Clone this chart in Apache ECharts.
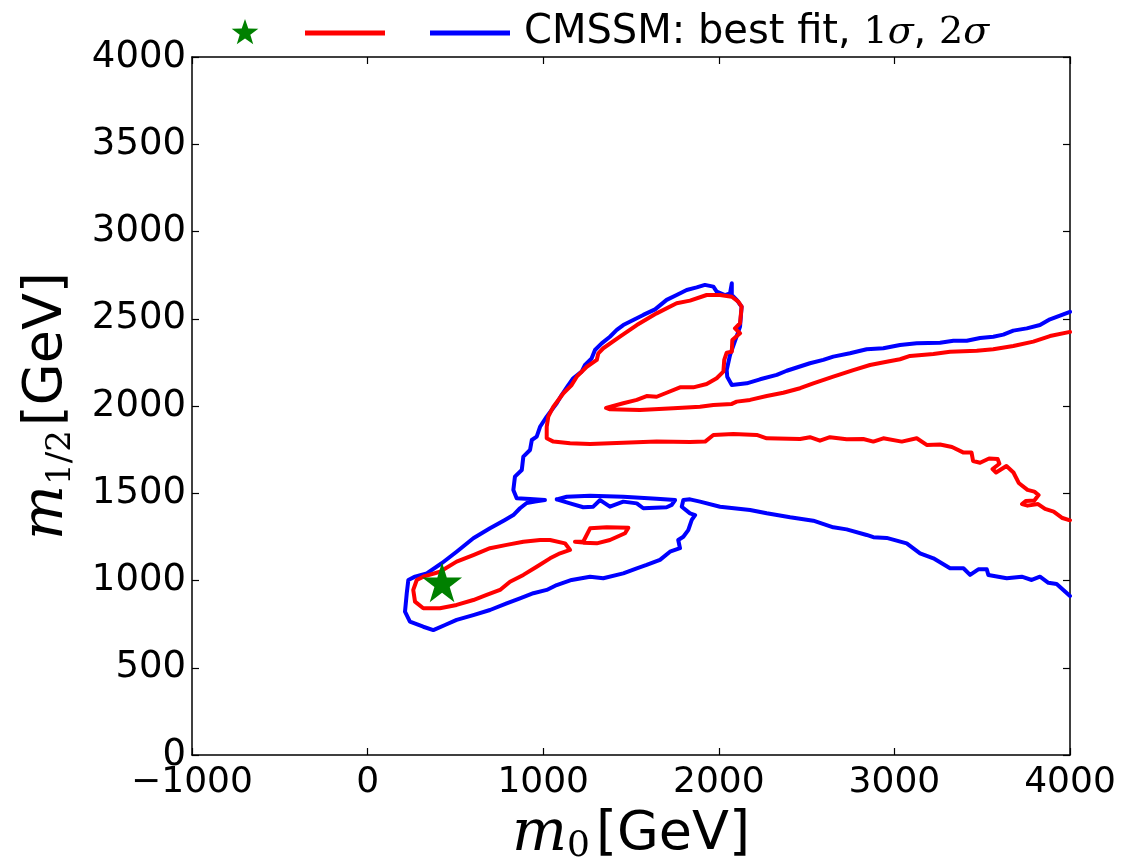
<!DOCTYPE html>
<html>
<head>
<meta charset="utf-8">
<script src="https://cdn.jsdelivr.net/npm/echarts@6/dist/echarts.min.js"></script>
<style>
  html, body { margin: 0; padding: 0; background: #ffffff; }
  #chart { width: 1129px; height: 860px; }
</style>
</head>
<body>
<div id="chart"></div>
<script>
// Axis ranges (GeV)
const m0Ticks = [-1000, 0, 1000, 2000, 3000, 4000];
const m12Ticks = [0, 500, 1000, 1500, 2000, 2500, 3000, 3500, 4000];

// CMSSM best-fit point [m0, m1/2]
const bestFit = [[424, 990]];

// 2-sigma contour (outer, open at the right edge)
const sigma2Outer = [
  [4000,2540],[3886,2497],[3829,2464],[3754,2445],[3677,2432],[3620,2409],[3563,2397],[3488,2390],
  [3412,2374],[3336,2374],[3260,2363],[3127,2359],[3032,2350],[2937,2331],[2842,2325],[2747,2302],
  [2652,2283],[2595,2264],[2519,2245],[2387,2202],[2330,2178],[2235,2153],[2159,2130],[2074,2120],
  [2048,2168],[2045,2206],[2064,2292],[2121,2455],[2130,2569],[2102,2608],[2074,2636],[2074,2703],
  [2064,2646],[2035,2636],[1988,2655],[1969,2684],[1921,2694],[1874,2680],[1817,2665],[1760,2636],
  [1703,2608],[1637,2554],[1570,2522],[1513,2493],[1456,2464],[1419,2436],[1380,2397],[1333,2359],
  [1295,2321],[1276,2273],[1238,2235],[1219,2197],[1171,2159],[1143,2120],[1105,2063],[1077,2016],
  [1020,1939],[982,1881],[963,1824],[935,1805],[925,1748],[887,1710],[878,1633],[839,1595],
  [830,1519],[849,1471],[925,1467],[1010,1461],[953,1453],[906,1444],[868,1414],[830,1375],
  [782,1347],[697,1299],[602,1242],[507,1165],[422,1099],[337,1041],[270,1022],[232,1003],
  [223,927],[213,821],[241,764],[317,735],[374,716],[441,745],[507,774],[602,802],
  [697,831],[792,869],[868,898],[944,927],[1020,946],[1077,974],[1162,1003],[1267,1022],
  [1342,1013],[1456,1041],[1533,1070],[1589,1089],[1665,1118],[1722,1165],[1779,1185],[1769,1232],
  [1798,1251],[1826,1289],[1846,1347],[1865,1375],[1836,1385],[1789,1423],[1798,1461],[1836,1465],
  [1893,1452],[2007,1423],[2178,1404],[2273,1385],[2406,1362],[2538,1343],[2652,1305],[2728,1293],
  [2842,1261],[2880,1248],[2956,1244],[3070,1213],[3146,1156],[3222,1127],[3317,1070],[3393,1070],
  [3431,1032],[3478,1064],[3526,1064],[3535,1032],[3640,1013],[3725,1022],[3782,1003],[3829,1022],
  [3877,987],[3924,980],[4000,911]
];

// 2-sigma island near m1/2 ~ 1450
const sigma2Island = [
  [1077,1465],[1134,1480],[1267,1486],[1456,1480],[1646,1469],[1751,1461],[1732,1433],[1703,1420],
  [1570,1414],[1533,1442],[1456,1452],[1380,1423],[1324,1461],[1285,1423],[1228,1420],[1153,1442],
  [1077,1465]
];

// 1-sigma contour (upper lobe and the two right-hand branches)
const sigma1Main = [
  [4000,2425],[3886,2401],[3791,2369],[3677,2344],[3563,2325],[3469,2317],[3317,2311],[3222,2298],
  [3089,2287],[3032,2268],[2956,2254],[2861,2235],[2766,2206],[2652,2168],[2538,2130],[2463,2102],
  [2367,2076],[2273,2057],[2178,2035],[2102,2025],[2074,2012],[1969,2006],[1893,1996],[1741,1987],
  [1551,1977],[1380,1981],[1358,1989],[1456,2016],[1533,2035],[1589,2057],[1646,2053],[1703,2076],
  [1779,2107],[1855,2107],[1931,2126],[1988,2159],[2026,2197],[2031,2264],[2045,2306],[2074,2311],
  [2077,2378],[2121,2417],[2092,2445],[2121,2474],[2130,2569],[2111,2598],[2074,2626],[2007,2636],
  [1931,2636],[1836,2604],[1760,2589],[1646,2531],[1533,2464],[1437,2397],[1342,2331],[1314,2302],
  [1305,2264],[1248,2225],[1191,2168],[1162,2120],[1115,2073],[1058,1996],[1029,1939],[1020,1881],
  [1020,1815],[1058,1796],[1153,1786],[1267,1782],[1456,1790],[1646,1796],[1836,1794],[1922,1796],
  [1969,1834],[2083,1840],[2216,1834],[2273,1815],[2463,1811],[2519,1821],[2576,1801],[2633,1821],
  [2728,1809],[2823,1811],[2880,1796],[2937,1815],[3042,1796],[3127,1815],[3184,1777],[3260,1779],
  [3328,1765],[3391,1734],[3439,1734],[3448,1685],[3488,1675],[3539,1699],[3588,1696],[3598,1669],
  [3559,1639],[3579,1619],[3638,1656],[3678,1619],[3708,1559],[3758,1519],[3797,1509],[3821,1490],
  [3797,1459],[3748,1456],[3727,1438],[3758,1429],[3818,1438],[3858,1410],[3907,1395],[3957,1358],
  [4000,1345]
];

// 1-sigma closed region around the best fit
const sigma1Low = [
  [317,1022],[412,1050],[507,1108],[602,1146],[697,1185],[792,1204],[887,1222],[982,1232],
  [1039,1232],[1124,1213],[1153,1175],[1096,1156],[1039,1127],[963,1079],[887,1032],[811,993],
  [754,946],[678,917],[602,888],[507,860],[412,841],[317,841],[270,879],[260,946],
  [280,1003],[317,1022]
];

// small 1-sigma island
const sigma1Island = [
  [1181,1222],[1228,1222],[1267,1299],[1362,1305],[1485,1303],[1466,1271],[1380,1232],[1305,1213],
  [1228,1217],[1181,1222]
];

const BLUE = '#0000ff';
const RED = '#ff0000';
const GREEN = '#008000';
const STAR = 'path://M50,0 L61.2,34.5 L97.6,34.5 L68.2,55.9 L79.4,90.5 L50,69.1 L20.6,90.5 L31.8,55.9 L2.4,34.5 L38.8,34.5 Z';
const SANS = 'DejaVu Sans';
const SERIF = 'DejaVu Serif';

// five-pointed star outline for the legend key
function starPoints(cx, cy, rOuter, rInner) {
  const pts = [];
  for (let k = 0; k < 10; k++) {
    const r = k % 2 === 0 ? rOuter : rInner;
    const a = -Math.PI / 2 + k * Math.PI / 5;
    pts.push([cx + r * Math.cos(a), cy + r * Math.sin(a)]);
  }
  return pts;
}

function contour(name, data, color, z) {
  return {
    name: name,
    type: 'line',
    data: data,
    showSymbol: false,
    symbol: 'none',
    smooth: false,
    animation: false,
    silent: true,
    clip: true,
    lineStyle: { color: color, width: 4, join: 'round', cap: 'round' },
    itemStyle: { color: color },
    z: z
  };
}

const minus = v => String(v).replace('-', '\u2212');

function axisBase() {
  return {
    type: 'value',
    axisLine: { show: true, onZero: false, lineStyle: { color: '#000', width: 1.5 } },
    axisTick: { show: true, inside: true, length: 7, lineStyle: { color: '#000', width: 1.2 } },
    splitLine: { show: false }
  };
}

const chart = echarts.init(document.getElementById('chart'), null, { renderer: 'canvas' });
chart.setOption({
  backgroundColor: '#ffffff',
  animation: false,
  grid: { left: 192, right: 59, top: 57, bottom: 105, containLabel: false, outerBoundsMode: 'none' },
  xAxis: [
    Object.assign(axisBase(), {
      position: 'bottom',
      min: m0Ticks[0], max: m0Ticks[m0Ticks.length - 1], interval: m0Ticks[1] - m0Ticks[0],
      axisLabel: { show: true, margin: 10, color: '#000', fontFamily: SANS, fontSize: 36, formatter: minus },
      name: '{m|m}{s|0}{g|[GeV]}',
      nameLocation: 'middle',
      nameGap: 46,
      nameTextStyle: {
        rich: {
          m: { fontFamily: SERIF, fontStyle: 'italic', fontSize: 58, lineHeight: 60, color: '#000' },
          s: { fontFamily: SERIF, fontSize: 36, lineHeight: 36, verticalAlign: 'bottom', color: '#000', padding: [0, 6, 0, 0] },
          g: { fontFamily: SANS, fontSize: 54, lineHeight: 60, color: '#000' }
        }
      }
    }),
    Object.assign(axisBase(), {
      position: 'top',
      min: m0Ticks[0], max: m0Ticks[m0Ticks.length - 1], interval: m0Ticks[1] - m0Ticks[0],
      axisLabel: { show: false }
    })
  ],
  yAxis: [
    Object.assign(axisBase(), {
      position: 'left',
      min: m12Ticks[0], max: m12Ticks[m12Ticks.length - 1], interval: m12Ticks[1] - m12Ticks[0],
      axisLabel: { show: true, margin: 6, color: '#000', fontFamily: SANS, fontSize: 37, formatter: minus },
      name: '{m|m}{s|1/2}{g|[GeV]}',
      nameLocation: 'middle',
      nameRotate: 90,
      nameGap: 114,
      nameTextStyle: {
        rich: {
          m: { fontFamily: SERIF, fontStyle: 'italic', fontSize: 58, lineHeight: 62, color: '#000' },
          s: { fontFamily: SERIF, fontSize: 34, lineHeight: 34, verticalAlign: 'bottom', color: '#000', padding: [0, 4, 0, 0] },
          g: { fontFamily: SANS, fontSize: 54, lineHeight: 62, color: '#000' }
        }
      }
    }),
    Object.assign(axisBase(), {
      position: 'right',
      min: m12Ticks[0], max: m12Ticks[m12Ticks.length - 1], interval: m12Ticks[1] - m12Ticks[0],
      axisLabel: { show: false }
    })
  ],
  series: [
    contour('2σ', sigma2Outer, BLUE, 3),
    contour('2σ island', sigma2Island, BLUE, 3),
    contour('1σ', sigma1Main, RED, 4),
    contour('1σ low', sigma1Low, RED, 4),
    contour('1σ island', sigma1Island, RED, 4),
    {
      name: 'best fit',
      type: 'scatter',
      data: bestFit,
      symbol: STAR,
      symbolSize: 40,
      itemStyle: { color: GREEN, opacity: 1 },
      silent: true,
      z: 6
    }
  ],
  graphic: [
    {
      type: 'polygon',
      shape: { points: starPoints(245, 33, 14, 5.6) },
      style: { fill: GREEN }
    },
    {
      type: 'line',
      shape: { x1: 305, y1: 33, x2: 385, y2: 33 },
      style: { stroke: RED, lineWidth: 5 }
    },
    {
      type: 'line',
      shape: { x1: 430, y1: 33, x2: 510, y2: 33 },
      style: { stroke: BLUE, lineWidth: 5 }
    },
    {
      type: 'text',
      x: 524,
      y: 33,
      style: {
        text: '{a|CMSSM: best fit, }{r|1}{i|σ}{a|, }{r|2}{i|σ}',
        verticalAlign: 'middle',
        align: 'left',
        rich: {
          a: { fontFamily: SANS, fontSize: 40, fill: '#000' },
          r: { fontFamily: SERIF, fontSize: 38, fill: '#000' },
          i: { fontFamily: SERIF, fontStyle: 'italic', fontSize: 38, fill: '#000' }
        }
      }
    }
  ]
});
</script>
</body>
</html>
